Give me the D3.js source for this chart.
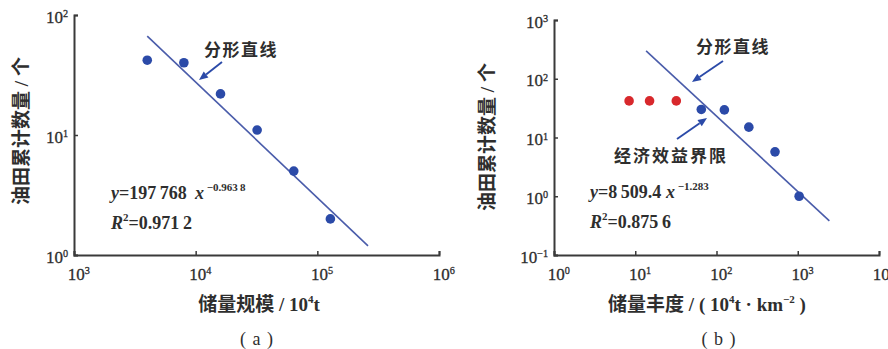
<!DOCTYPE html>
<html><head><meta charset="utf-8">
<script src="https://cdn.jsdelivr.net/npm/d3@7"></script>
<style>
body{margin:0;background:#fff}
svg{display:block}
</style>
</head><body>
<svg id="c" width="888" height="349"></svg>
<script>
// Panel (a): reserve size vs cumulative number of oil fields
const sizeX = [4000, 8000, 16000, 32000, 64000, 128000];
const sizeCount = [42, 40, 22, 11, 5, 2];
const sizeFitCoef = 197768, sizeFitExp = -0.9638;
const sizeFitRange = [4000, 261000];
const sizeTickExp = [3, 4, 5, 6];
const countTickExpA = [0, 1, 2];

// Panel (b): reserve abundance vs cumulative number of oil fields
const abundRedX = [8.4, 15, 32];
const abundRedCount = [42, 42, 42];
const abundBlueX = [65, 125, 250, 525, 1040];
const abundBlueCount = [30, 29.5, 15, 5.7, 1];
const abundFitCoef = 8509.4, abundFitExp = -1.283;
const abundFitRange = [13.6, 2450];
const abundTickExp = [0, 1, 2, 3, 4];
const countTickExpB = [-1, 0, 1, 2, 3];

const BLUE = "#2b4aa8", LINE = "#4a5caa", RED = "#d8282c", AXIS = "#3a3a3a", TXT = "#2e2e2e";
const SERIF = "'Liberation Serif','Noto Sans CJK SC',serif";
const CJK = "'Noto Sans CJK SC','Liberation Serif',sans-serif";

const svg = d3.select("#c");

function powTicks(g, exps) {
  g.selectAll(".tick text").each(function(d, i) {
    const t = d3.select(this).text(null);
    t.append("tspan").text("10");
    t.append("tspan").attr("dy", "-0.55em").attr("font-size", "0.6em")
      .text(String(exps[i]).replace("-", "\u2212"));
  });
}

function panel(opt) {
  const g = svg.append("g");
  const x = d3.scaleLog().domain(opt.xDom).range(opt.xRange);
  const y = d3.scaleLog().domain(opt.yDom).range(opt.yRange);
  const y0 = opt.yRange[0], x0 = opt.xRange[0];

  const xa = g.append("g").attr("transform", `translate(0,${y0})`)
    .call(d3.axisBottom(x).tickValues(opt.xTickExp.map(e => Math.pow(10, e)))
      .tickSize(-4).tickSizeOuter(-4).tickPadding(13));
  powTicks(xa, opt.xTickExp);
  xa.selectAll(".tick text").attr("dx", "0.25em");

  const ya = g.append("g").attr("transform", `translate(${x0},0)`)
    .call(d3.axisLeft(y).tickValues(opt.yTickExp.map(e => Math.pow(10, e)))
      .tickSize(-4).tickSizeOuter(-4).tickPadding(6));
  powTicks(ya, opt.yTickExp);
  ya.selectAll(".tick text").attr("dy", "0.42em");

  g.selectAll(".domain").attr("stroke", AXIS).attr("stroke-width", 2);
  g.selectAll(".tick line").attr("stroke", AXIS).attr("stroke-width", 1.5);
  g.selectAll(".tick text").attr("font-family", SERIF).attr("font-size", 17)
    .attr("fill", TXT).attr("stroke", TXT).attr("stroke-width", 0.3);

  // power-law fit line
  g.append("path")
    .attr("d", d3.line().x(d => x(d)).y(d => y(opt.fitCoef * Math.pow(d, opt.fitExp)))(opt.fitRange))
    .attr("stroke", LINE).attr("stroke-width", 1.6).attr("fill", "none");

  opt.series.forEach(s => {
    g.append("g").selectAll("circle").data(s.x).join("circle")
      .attr("cx", d => x(d)).attr("cy", (d, i) => y(s.y[i])).attr("r", 4.8)
      .attr("fill", s.color);
  });

  return {g, x, y};
}

function arrow(g, x1, y1, x2, y2) {
  const a = Math.atan2(y2 - y1, x2 - x1), L = 9, W = 3.8;
  const bx = x2 - L * Math.cos(a), by = y2 - L * Math.sin(a);
  g.append("line").attr("x1", x1).attr("y1", y1).attr("x2", bx).attr("y2", by)
    .attr("stroke", BLUE).attr("stroke-width", 1.9);
  g.append("path").attr("fill", BLUE).attr("d",
    `M${x2},${y2}L${bx - W * Math.sin(a)},${by + W * Math.cos(a)}L${bx + W * Math.sin(a)},${by - W * Math.cos(a)}Z`);
}

function label(g, txt, cx, cy, size, spacing) {
  return g.append("text").attr("x", cx).attr("y", cy).attr("text-anchor", "middle")
    .attr("dominant-baseline", "central").attr("font-family", CJK).attr("font-weight", "bold")
    .attr("font-size", size).attr("letter-spacing", spacing || 0).attr("fill", TXT).text(txt);
}

function equation(g, x0, yb, coef, exp, r2) {
  const t1 = g.append("text").attr("x", x0).attr("y", yb).attr("font-family", SERIF)
    .attr("font-weight", "bold").attr("font-size", 18).attr("fill", TXT);
  t1.append("tspan").attr("font-style", "italic").text("y");
  t1.append("tspan").text("=" + coef + " ");
  t1.append("tspan").attr("font-style", "italic").text("x");
  t1.append("tspan").attr("dy", -8).attr("font-size", 11).text(" " + exp);
  const t2 = g.append("text").attr("x", x0).attr("y", yb + 30).attr("font-family", SERIF)
    .attr("font-weight", "bold").attr("font-size", 18).attr("fill", TXT);
  t2.append("tspan").attr("font-style", "italic").text("R");
  t2.append("tspan").attr("dy", -8).attr("font-size", 11).text("2");
  t2.append("tspan").attr("dy", 8).text("=" + r2);
}

function axisTitle(g, x, y, parts, rotate) {
  const t = g.append("text").attr("text-anchor", "middle")
    .attr("transform", `translate(${x},${y})` + (rotate ? " rotate(-90)" : ""))
    .attr("font-family", SERIF).attr("font-weight", "bold").attr("font-size", 19).attr("fill", TXT);
  parts.forEach(p => {
    if (p.sup) t.append("tspan").attr("dy", -8).attr("font-size", 11).text(p.sup);
    else t.append("tspan").attr("dy", p.back ? 8 : null).text(p.t);
  });
}

// ---- panel (a)
const A = panel({
  xDom: [1e3, 1e6], xRange: [74, 439], yDom: [1, 100], yRange: [255, 15],
  xTickExp: sizeTickExp, yTickExp: countTickExpA,
  fitCoef: sizeFitCoef, fitExp: sizeFitExp, fitRange: sizeFitRange,
  series: [{x: sizeX, y: sizeCount, color: BLUE}]
});
label(A.g, "分形直线", 241, 48, 17, 1.5);
arrow(A.g, 222, 62, 199, 80);
equation(A.g, 111, 199, "197\u2009768\u2009", "\u22120.963\u20098", "0.971\u20092");
axisTitle(A.g, 259, 311, [{t: "储量规模 / 10"}, {sup: "4"}, {t: "t", back: true}]);
axisTitle(A.g, 28, 131, [{t: "油田累计数量 / 个"}], true);
A.g.append("text").attr("x", 257).attr("y", 345).attr("text-anchor", "middle")
  .attr("font-family", SERIF).attr("font-size", 18).attr("letter-spacing", 1).attr("fill", TXT).text("( a )");

// ---- panel (b)
const B = panel({
  xDom: [1, 1e4], xRange: [554, 879], yDom: [0.1, 1000], yRange: [255, 20],
  xTickExp: abundTickExp, yTickExp: countTickExpB,
  fitCoef: abundFitCoef, fitExp: abundFitExp, fitRange: abundFitRange,
  series: [{x: abundRedX, y: abundRedCount, color: RED}, {x: abundBlueX, y: abundBlueCount, color: BLUE}]
});
label(B.g, "分形直线", 733, 45, 17, 1.5);
arrow(B.g, 723, 61, 692, 82);
label(B.g, "经济效益界限", 671, 154, 17, 2);
arrow(B.g, 677, 139, 707, 118);
equation(B.g, 590, 198, "8\u2009509.4", "\u22121.283", "0.875\u20096");
axisTitle(B.g, 707, 311, [{t: "储量丰度 / ( 10"}, {sup: "4"}, {t: "t · km", back: true}, {sup: "\u22122"}, {t: " )", back: true}]);
axisTitle(B.g, 494, 137, [{t: "油田累计数量 / 个"}], true);
B.g.append("text").attr("x", 719).attr("y", 345).attr("text-anchor", "middle")
  .attr("font-family", SERIF).attr("font-size", 18).attr("letter-spacing", 1).attr("fill", TXT).text("( b )");
</script>
</body></html>
